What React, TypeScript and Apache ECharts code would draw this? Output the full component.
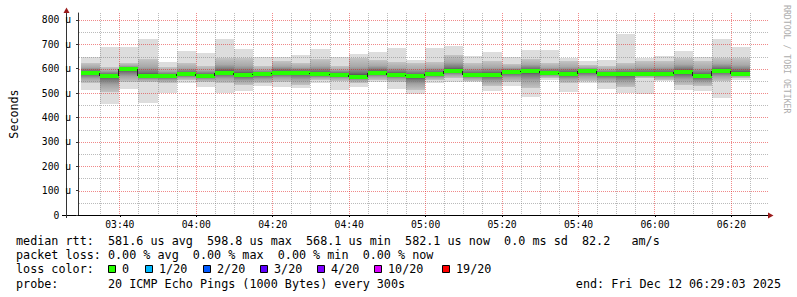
import React, { useEffect, useRef } from "react";
import * as echarts from "echarts";

// ---------- data ----------
const startTime = "03:29:03";
const endTime = "06:29:03";
const stepMinutes = 5;

const sampleTimes = [
  "03:35", "03:40", "03:45", "03:50", "03:55", "04:00", "04:05", "04:10", "04:15", "04:20",
  "04:25", "04:30", "04:35", "04:40", "04:45", "04:50", "04:55", "05:00", "05:05", "05:10",
  "05:15", "05:20", "05:25", "05:30", "05:35", "05:40", "05:45", "05:50", "05:55", "06:00",
  "06:05", "06:10", "06:15", "06:20", "06:25",
];
// microseconds
const maxRtt = [649, 690, 690, 721, 627, 674, 666, 722, 681, 647, 650, 657, 681, 650, 662, 669, 687, 636, 687, 695, 652, 668, 650, 677, 677, 646, 632, 634, 744, 644, 651, 673, 647, 722, 690];
const upperRtt = [622, 608, 622, 640, 606, 622, 611, 643, 643, 611, 633, 625, 639, 611, 643, 636, 629, 622, 629, 656, 625, 630, 618, 640, 625, 633, 615, 611, 622, 630, 633, 643, 633, 643, 643];
const medianRtt = [584, 572, 598, 570, 569, 577, 571, 584, 574, 577, 584, 584, 577, 576, 568, 584, 576, 569, 577, 591, 575, 575, 587, 591, 582, 579, 591, 578, 578, 577, 578, 586, 569, 592, 580];
const lowerRtt = [540, 506, 547, 547, 540, 553, 547, 540, 533, 540, 545, 535, 555, 550, 540, 555, 547, 513, 555, 560, 550, 530, 545, 520, 560, 540, 550, 540, 525, 560, 555, 535, 530, 550, 560];
const minRtt = [513, 457, 518, 461, 500, 543, 527, 499, 510, 529, 527, 520, 542, 513, 524, 547, 518, 496, 540, 545, 545, 510, 531, 485, 555, 506, 540, 517, 499, 497, 549, 512, 510, 478, 555];
const lossPerSample = [0, 0, 0, 0, 0, 0, 0, 0, 0, 0, 0, 0, 0, 0, 0, 0, 0, 0, 0, 0, 0, 0, 0, 0, 0, 0, 0, 0, 0, 0, 0, 0, 0, 0, 0];

const yTickValues = [0, 100, 200, 300, 400, 500, 600, 700, 800];
const yTickLabels = ["0", "100 u", "200 u", "300 u", "400 u", "500 u", "600 u", "700 u", "800 u"];
const yMinorValues = [50, 150, 250, 350, 450, 550, 650, 750];
const yMax = 828.7;
const xTickLabels = ["03:40", "04:00", "04:20", "04:40", "05:00", "05:20", "05:40", "06:00", "06:20"];
const xMinorLabels = [
  "03:35", "03:45", "03:50", "03:55", "04:05", "04:10", "04:15", "04:25", "04:30", "04:35",
  "04:45", "04:50", "04:55", "05:05", "05:10", "05:15", "05:25", "05:30", "05:35", "05:45",
  "05:50", "05:55", "06:05", "06:10", "06:15", "06:25",
];

const rttLine = "median rtt:  581.6 us avg  598.8 us max  568.1 us min  582.1 us now  0.0 ms sd  82.2   am/s";
const lossLine = "packet loss: 0.00 % avg  0.00 % max  0.00 % min  0.00 % now";
const lossTitle = "loss color:";
const lossLabels = ["0", "1/20", "2/20", "3/20", "4/20", "10/20", "19/20"];
const lossColors = ["#26ff00", "#00b8ff", "#0059ff", "#5e00ff", "#7e00ff", "#dd00ff", "#ff0000"];
const lossLevels = [0, 1, 2, 3, 4, 10, 19];
const probeLine = "probe:       20 ICMP Echo Pings (1000 Bytes) every 300s";
const endLine = "end: Fri Dec 12 06:29:03 2025";
const watermark = "RRDTOOL / TOBI OETIKER";

// ---------- helpers ----------
const toMin = (s: string) => {
  const p = s.split(":").map(Number);
  return p[0] * 60 + p[1] + (p[2] || 0) / 60;
};
const T0 = toMin(startTime);
const T1 = toMin(endTime);
const xTickValues = xTickLabels.map(toMin);
const xMinorValues = xMinorLabels.map(toMin);

const MONO = "DejaVu Sans Mono";
const LEG_FS = 11.75;
const CHAR_W = LEG_FS * 0.60205;
const MINOR_GRID = "rgba(120,120,120,0.5)";
const MAJOR_GRID = "rgba(225,20,20,0.5)";
const ARROW = "#9b1b1b";

const lossColorFor = (n: number) => {
  let c = lossColors[0];
  lossLevels.forEach((lv, k) => {
    if (n >= lv) c = lossColors[k];
  });
  return c;
};

const textChunks = (str: string, x0: number, y: number) => {
  const out: any[] = [];
  const re = /\S+(?: \S+)*/g;
  let m: RegExpExecArray | null;
  while ((m = re.exec(str))) {
    out.push({
      type: "text",
      x: x0 + m.index * CHAR_W,
      y,
      silent: true,
      style: { text: m[0], fontFamily: MONO, fontSize: LEG_FS, fill: "#000", align: "left", verticalAlign: "middle" },
    });
  }
  return out;
};

export default function App() {
  const ref = useRef<HTMLDivElement>(null);

  useEffect(() => {
    document.body.style.margin = "0";
    if (!ref.current) return;
    const chart = echarts.init(ref.current, undefined, { renderer: "svg" });

    const smokeData = sampleTimes.map((t, i) => [toMin(t), maxRtt[i], upperRtt[i], medianRtt[i], lowerRtt[i], minRtt[i]]);
    const medianData = sampleTimes.map((t, i) => [toMin(t), medianRtt[i], lossPerSample[i]]);

    const colSpan = (api: any, params: any, t: number) => {
      const cs = params.coordSys;
      let xa = Math.floor(api.coord([t - stepMinutes, 0])[0]);
      const xb = Math.floor(api.coord([t, 0])[0]);
      xa = Math.max(xa, Math.round(cs.x));
      return [xa, xb];
    };

    const smokeSeries: any = {
      type: "custom",
      z: 2,
      clip: true,
      silent: true,
      encode: { x: 0, y: [1, 2, 3, 4, 5] },
      data: smokeData,
      renderItem: (params: any, api: any) => {
        const t = api.value(0);
        const [xa, xb] = colSpan(api, params, t);
        const yy = (v: number) => Math.round(api.coord([t, v])[1]);
        const yMx = yy(api.value(1));
        const yHi = yy(api.value(2));
        const yMd = api.coord([t, api.value(3)])[1];
        const yLo = yy(api.value(4));
        const yMn = yy(api.value(5));
        const w = xb - xa;
        let f = (yMd - yHi) / Math.max(1, yLo - yHi);
        f = Math.min(0.95, Math.max(0.05, f));
        const grad = new echarts.graphic.LinearGradient(0, 0, 0, 1, [
          { offset: 0, color: "#c4c4c4" },
          { offset: f * 0.45, color: "#a9a9a9" },
          { offset: f * 0.8, color: "#747474" },
          { offset: f, color: "#3c3c3c" },
          { offset: f + (1 - f) * 0.2, color: "#737373" },
          { offset: f + (1 - f) * 0.55, color: "#a2a2a2" },
          { offset: 1, color: "#c2c2c2" },
        ]);
        return {
          type: "group",
          children: [
            { type: "rect", shape: { x: xa, y: yMx, width: w, height: yMn - yMx }, style: { fill: "#dddddd" } },
            { type: "rect", shape: { x: xa, y: yHi, width: w, height: yLo - yHi }, style: { fill: grad } },
          ],
        };
      },
    };

    const hGridSeries: any = {
      type: "custom",
      z: 3,
      silent: true,
      clip: false,
      encode: { x: 0, y: 1 },
      data: [...yMinorValues.map((v) => [T0, v, 0]), ...yTickValues.filter((v) => v > 0).map((v) => [T0, v, 1])],
      renderItem: (params: any, api: any) => {
        const cs = params.coordSys;
        const y = Math.round(api.coord([T0, api.value(1)])[1]) + 0.5;
        return {
          type: "line",
          shape: { x1: cs.x + 1, y1: y, x2: cs.x + cs.width + 2, y2: y },
          style: { stroke: api.value(2) ? MAJOR_GRID : MINOR_GRID, lineWidth: 1, lineDash: [1, 1] },
        };
      },
    };

    const vGridSeries: any = {
      type: "custom",
      z: 3,
      silent: true,
      clip: false,
      encode: { x: 0, y: 1 },
      data: [...xMinorValues.map((v) => [v, 0, 0]), ...xTickValues.map((v) => [v, 0, 1])],
      renderItem: (params: any, api: any) => {
        const cs = params.coordSys;
        const x = Math.floor(api.coord([api.value(0), 0])[0]) + 0.5;
        return {
          type: "line",
          shape: { x1: x, y1: cs.y, x2: x, y2: cs.y + cs.height },
          style: { stroke: api.value(2) ? MAJOR_GRID : MINOR_GRID, lineWidth: 1, lineDash: [1, 1] },
        };
      },
    };

    const medianSeries: any = {
      type: "custom",
      z: 4,
      clip: true,
      silent: true,
      encode: { x: 0, y: 1 },
      data: medianData,
      renderItem: (params: any, api: any) => {
        const i = params.dataIndex;
        const t = api.value(0);
        const [xa, xb] = colSpan(api, params, t);
        const yMd = Math.round(api.coord([t, api.value(1)])[1]);
        const children: any[] = [];
        if (i > 0) {
          const yPrev = Math.round(api.coord([t, medianRtt[i - 1]])[1]);
          children.push({
            type: "line",
            shape: { x1: xa - 0.5, y1: yPrev, x2: xa - 0.5, y2: yMd },
            style: { stroke: "#202020", lineWidth: 1 },
          });
        }
        children.push({
          type: "rect",
          shape: { x: xa, y: yMd - 2, width: xb - xa, height: 4 },
          style: { fill: lossColorFor(api.value(2)) },
        });
        return { type: "group", children };
      },
    };

    const graphics: any[] = [];
    // axis extensions and arrows
    graphics.push({ type: "line", silent: true, shape: { x1: 62, y1: 215.5, x2: 769, y2: 215.5 }, style: { stroke: "#000", lineWidth: 1 } });
    graphics.push({ type: "line", silent: true, shape: { x1: 66.5, y1: 218, x2: 66.5, y2: 11 }, style: { stroke: "#333", lineWidth: 1 } });
    graphics.push({ type: "polygon", silent: true, shape: { points: [[768, 212.5], [773.5, 215.5], [768, 218.5]] }, style: { fill: ARROW } });
    graphics.push({ type: "polygon", silent: true, shape: { points: [[63.5, 13], [66.5, 7.5], [69.5, 13]] }, style: { fill: ARROW } });

    // legend lines
    graphics.push(...textChunks(rttLine, 16, 240.8));
    graphics.push(...textChunks(lossLine, 16, 255.2));
    graphics.push(...textChunks(lossTitle, 16, 269.3));
    const boxX = [108, 145, 203, 260, 317, 374, 442];
    lossLabels.forEach((lab, k) => {
      graphics.push({
        type: "rect",
        silent: true,
        shape: { x: boxX[k] + 0.5, y: 265.5, width: 7, height: 7 },
        style: { fill: lossColors[k], stroke: "#000", lineWidth: 1 },
      });
      graphics.push({
        type: "text",
        silent: true,
        x: boxX[k] + 14,
        y: 269.3,
        style: { text: lab, fontFamily: MONO, fontSize: LEG_FS, fill: "#000", align: "left", verticalAlign: "middle" },
      });
    });
    graphics.push(...textChunks(probeLine, 16, 283.5));
    graphics.push({
      type: "text",
      silent: true,
      x: 781,
      y: 283.5,
      style: { text: endLine, fontFamily: MONO, fontSize: LEG_FS, fill: "#000", align: "right", verticalAlign: "middle" },
    });
    graphics.push({
      type: "text",
      silent: true,
      x: 786.5,
      y: 5,
      rotation: -Math.PI / 2,
      style: { text: watermark, fontFamily: MONO, fontSize: 8.2, fill: "#adadad", align: "left", verticalAlign: "middle" },
    });

    const option: any = {
      animation: false,
      backgroundColor: "#ffffff",
      grid: { left: 66, top: 13, width: 700, height: 202 },
      xAxis: {
        type: "value",
        min: T0,
        max: T1,
        axisLine: { show: true, lineStyle: { color: "#000", width: 1 } },
        axisTick: { show: true, customValues: xTickValues, length: 2, lineStyle: { color: "#000" } },
        axisLabel: {
          show: true,
          customValues: xTickValues,
          formatter: (v: number) => {
            const k = xTickValues.findIndex((x) => Math.abs(x - v) < 1e-6);
            return k >= 0 ? xTickLabels[k] : "";
          },
          fontFamily: MONO,
          fontSize: 9.7,
          color: "#000",
          margin: 4,
        },
        splitLine: { show: false },
        minorTick: { show: false },
      },
      yAxis: {
        type: "value",
        min: 0,
        max: yMax,
        name: "Seconds",
        nameLocation: "middle",
        nameRotate: 90,
        nameGap: 58,
        nameTextStyle: { fontFamily: MONO, fontSize: 11.7, color: "#000" },
        axisLine: { show: true, lineStyle: { color: "#333", width: 1 } },
        axisTick: { show: true, customValues: yTickValues, length: 2, lineStyle: { color: "#333" } },
        axisLabel: {
          show: true,
          customValues: yTickValues,
          formatter: (v: number) => {
            const k = yTickValues.findIndex((y) => Math.abs(y - v) < 1e-6);
            if (k < 0) return "";
            return v === 0 ? "{z|" + yTickLabels[k] + "}" : yTickLabels[k];
          },
          rich: { z: { fontFamily: MONO, fontSize: 9.7, color: "#000", padding: [0, 11.7, 0, 0] } },
          fontFamily: MONO,
          fontSize: 9.7,
          color: "#000",
          margin: 7,
        },
        splitLine: { show: false },
        minorTick: { show: false },
      },
      series: [smokeSeries, hGridSeries, vGridSeries, medianSeries],
      graphic: graphics,
    };

    chart.setOption(option);
    return () => chart.dispose();
  }, []);

  return <div ref={ref} style={{ width: 797, height: 297 }} />;
}
